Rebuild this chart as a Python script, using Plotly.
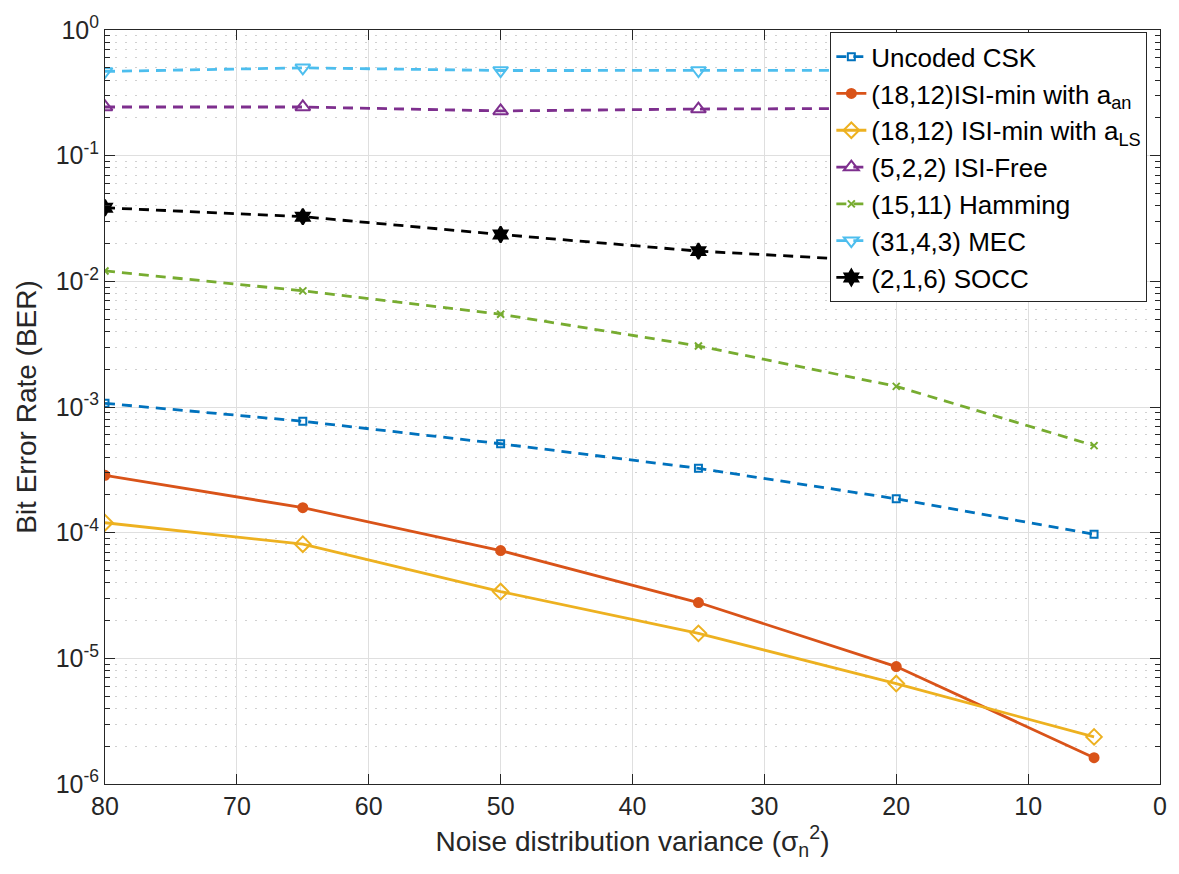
import plotly.graph_objects as go

x = [80, 65, 50, 35, 20, 5]

uncoded_csk = [1.07e-3, 7.7e-4, 5.1e-4, 3.25e-4, 1.86e-4, 9.7e-5]
isi_min_aan = [2.86e-4, 1.58e-4, 7.2e-5, 2.78e-5, 8.6e-6, 1.62e-6]
isi_min_als = [1.2e-4, 8.1e-5, 3.4e-5, 1.58e-5, 6.3e-6, 2.37e-6]
isi_free = [0.244, 0.244, 0.227, 0.235, 0.238, 0.24]
hamming = [0.0121, 8.4e-3, 5.47e-3, 3.06e-3, 1.46e-3, 4.93e-4]
mec = [0.468, 0.50, 0.476, 0.476, 0.478, 0.478]
socc = [0.0385, 0.0327, 0.0236, 0.0174, 0.0143, 0.0115]

names = [
    "Uncoded CSK",
    "(18,12)ISI-min with a<sub>an</sub>",
    "(18,12) ISI-min with a<sub>LS</sub>",
    "(5,2,2) ISI-Free",
    "(15,11) Hamming",
    "(31,4,3) MEC",
    "(2,1,6) SOCC",
]
series = [uncoded_csk, isi_min_aan, isi_min_als, isi_free, hamming, mec, socc]
colors = ["#0072BD", "#D95319", "#EDB120", "#7E2F8E", "#77AC30", "#4DBEEE", "#000000"]
symbols = ["square-open", "circle", "diamond-open", "triangle-up-open", "x-thin-open",
           "triangle-down-open", "hexagram"]
sizes = [7, 9, 12, 13, 7, 13, 12]
dashes = ["10px,7px", "solid", "solid", "10px,7px", "10px,7px", "10px,7px", "10px,7px"]

y_tickvals = [1e-6, 1e-5, 1e-4, 1e-3, 1e-2, 1e-1, 1]
y_ticktext = ["10<sup>-6</sup>", "10<sup>-5</sup>", "10<sup>-4</sup>", "10<sup>-3</sup>",
              "10<sup>-2</sup>", "10<sup>-1</sup>", "10<sup>0</sup>"]
x_tickvals = [80, 70, 60, 50, 40, 30, 20, 10, 0]

fig = go.Figure()
for n, s, c, sym, sz, d in zip(names, series, colors, symbols, sizes, dashes):
    fig.add_trace(go.Scatter(
        x=x, y=s, name=n, mode="lines+markers",
        line=dict(color=c, width=2.8, dash=d),
        marker=dict(symbol=sym, size=sz, color=c, line=dict(color=c, width=2)),
    ))

font_family = "Liberation Sans, Arial, Helvetica, sans-serif"
fig.update_layout(
    width=1179, height=874,
    margin=dict(l=105, r=19, t=20, b=90),
    paper_bgcolor="white", plot_bgcolor="white",
    font=dict(family=font_family, size=25, color="#262626"),
    legend=dict(
        x=0.988, y=0.997, xanchor="right", yanchor="top",
        bgcolor="white", bordercolor="#262626", borderwidth=1,
        font=dict(family=font_family, size=26, color="black"),
        tracegroupgap=0, itemwidth=30,
    ),
    xaxis=dict(
        range=[80, 0], tickvals=x_tickvals,
        tickfont=dict(size=25),
        showgrid=True, gridcolor="#dfdfdf", gridwidth=1,
        ticks="inside", ticklen=10, tickcolor="#262626",
        showline=True, linecolor="#262626", linewidth=1, mirror="ticks",
        zeroline=False,
        title=dict(text="Noise distribution variance (σ<sub>n</sub><sup>2</sup>)",
                   standoff=12, font=dict(size=28)),
    ),
    yaxis=dict(
        type="log", range=[-6, 0], tickvals=y_tickvals, ticktext=y_ticktext,
        tickfont=dict(size=25),
        showgrid=True, gridcolor="#dfdfdf", gridwidth=1,
        ticks="inside", ticklen=10, tickcolor="#262626",
        showline=True, linecolor="#262626", linewidth=1, mirror="ticks",
        zeroline=False,
        minor=dict(dtick="D1", ticks="inside", ticklen=5, tickcolor="#262626",
                   showgrid=True, gridcolor="#d0d0d0", griddash="2px,8px", gridwidth=1),
        title=dict(text="Bit Error Rate (BER)", standoff=10, font=dict(size=28)),
    ),
)

fig.write_html("out.html")
